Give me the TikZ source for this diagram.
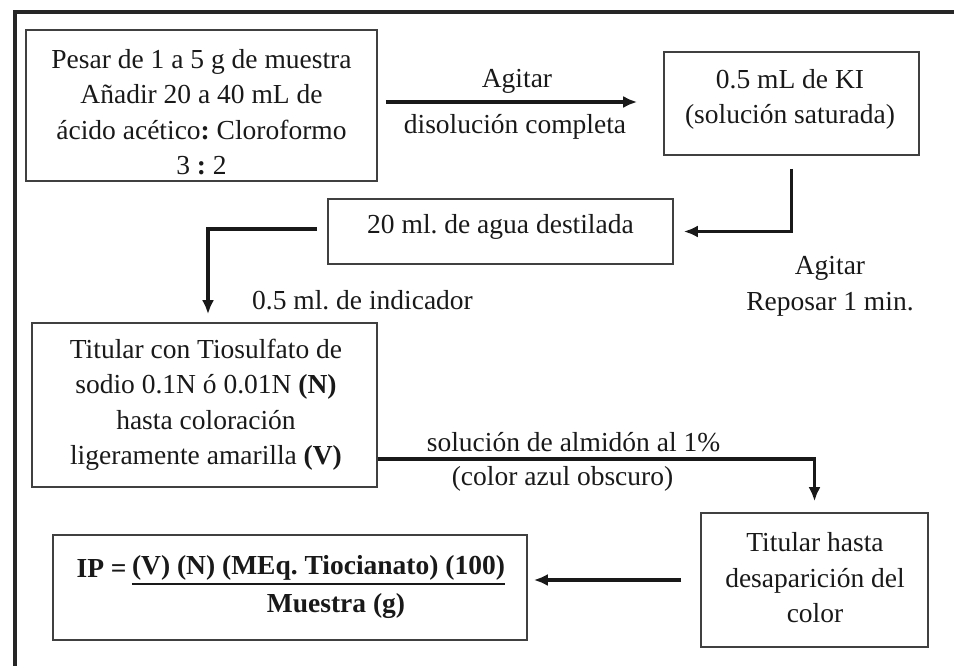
\documentclass[tikz,border=0pt]{standalone}
\usepackage{fontspec}
\setmainfont{Liberation Serif}
\usetikzlibrary{arrows.meta}
\frenchspacing
\begin{document}
\begin{tikzpicture}[x=1pt, y=-1pt,
    caja/.style={draw=black!75, line width=1.6pt, inner sep=0pt},
    texto/.style={align=center, inner sep=0pt, text=black!90, font=\fontsize{27.5}{35.5}\selectfont},
    negrita/.style={texto, font=\fontsize{27.5}{35.5}\selectfont\bfseries},
    flecha/.style={line width=3.2pt, black!90, -{Latex[length=14pt,width=12pt]}}]
        \useasboundingbox (0,0) rectangle (954,666);
        \draw[line width=3.2pt, black!85] (15,666) |- (954,12);
        \node[caja, minimum width=351pt, minimum height=151pt] (pesar) at (201.5,105.5) {};
        \node[caja, minimum width=255pt, minimum height=103pt] (ki) at (791.5,103.5) {};
        \node[caja, minimum width=345pt, minimum height=65pt] (agua) at (500.5,231.5) {};
        \node[caja, minimum width=345pt, minimum height=164pt] (titular) at (204.5,405) {};
        \node[caja, minimum width=227pt, minimum height=134pt] (fin) at (814.5,580) {};
        \node[caja, minimum width=474pt, minimum height=105pt] (formula) at (290,587.5) {};
        \node[texto] at (201.5,112) {Pesar de 1 a 5 g de muestra\\A\~nadir 20 a 40 mL de\\ácido acético\textbf{:} Cloroformo\\3 \textbf{:} 2};
        \node[texto] at (790,99.5) {0.5 mL de KI\\(solución saturada)};
        \node[texto] at (500.5,227) {20 ml. de agua destilada};
        \node[texto] at (206,405) {Titular con Tiosulfato de\\sodio 0.1N ó 0.01N \textbf{(N)}\\hasta coloración\\ligeramente amarilla \textbf{(V)}};
        \node[texto] at (815,578) {Titular hasta\\desaparición del\\color};
        \node[negrita] (num) at (318.5,568) {(V) (N) (MEq. Tiocianato) (100)};
        \node[negrita, anchor=east] (ip) at ([xshift=-5pt]num.west) {IP =};
        \node[negrita] (muestra) at (336,606) {Muestra (g)};
        \coordinate (barra) at (0,584);
        \draw[line width=2.6pt, black!90] (num.west |- barra) -- (num.east |- barra);
        \draw[flecha, shorten <=8pt, shorten >=26pt] ([yshift=3.5pt]pesar.east) -- ([yshift=3.5pt]pesar.east -| ki.west);
        \node[texto] (agitar) at (517,81) {Agitar};
        \node[texto] (disol) at (515,127) {disolución completa};
        \draw[flecha, shorten <=13pt, shorten >=10pt] (ki.south) |- (agua.east);
        \node[texto] (reposar) at (830,286.5) {Agitar\\Reposar 1 min.};
        \draw[flecha, shorten <=10pt, shorten >=8pt] ([yshift=2.5pt]agua.west) -| ([xshift=3.5pt]titular.north);
        \node[texto] (indicador) at (362.5,300) {0.5 ml. de indicador};
        \draw[flecha, shorten >=11pt] ([yshift=-54pt]titular.east) -| (fin.north);
        \node[texto] (almidon) at (573.5,442) {solución de almidón al 1\%};
        \node[texto] (azul) at (562.5,479) {(color azul obscuro)};
        \draw[flecha, shorten <=19pt, shorten >=6pt] (fin.west) -- (fin.west -| formula.east);
\end{tikzpicture}
\end{document}
